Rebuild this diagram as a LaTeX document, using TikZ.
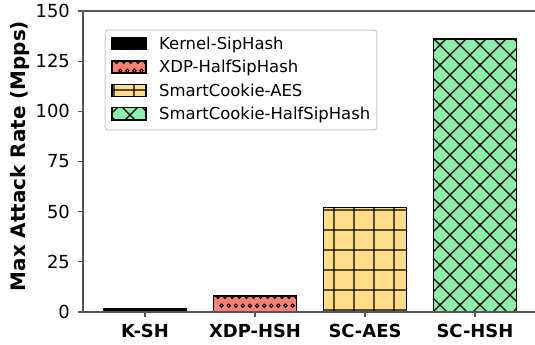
\documentclass[tikz,border=0pt]{standalone}
\usepackage{fontspec}
\setmainfont{DejaVu Sans}
\usetikzlibrary{patterns.meta}

\definecolor{spinegray}{HTML}{555555}
\definecolor{legendgray}{HTML}{CCCCCC}
\definecolor{xdpsalmon}{HTML}{FA8072}
\definecolor{aesyellow}{HTML}{FFDD88}
\definecolor{hshgreen}{HTML}{8CEEA8}

\tikzdeclarepattern{
	name=hatchgrid,
	type=uncolored,
	bounding box={(0bp,0bp) and (20bp,20bp)},
	tile size={(20bp,20bp)},
	code={
		\draw[line width=1.3bp] (0bp,15bp) -- (20bp,15bp) (15bp,0bp) -- (15bp,20bp);
	}
}
\tikzdeclarepattern{
	name=hatchcross,
	type=uncolored,
	bounding box={(-1bp,-1bp) and (21bp,21bp)},
	tile size={(20bp,20bp)},
	code={
		\draw[line width=1.3bp] (-2bp,-2bp) -- (22bp,22bp) (-2bp,22bp) -- (22bp,-2bp);
	}
}

% two staggered rows of small rings: first x, top row y, bottom row y, last index
\newcommand{\dotrows}[4]{%
	\foreach \k in {0,...,#4} {
		\draw[dotring] (#1+\k*0.06455,#2) circle (1.7bp);
		\draw[dotring] (#1+0.0323+\k*0.06455,#3) circle (1.7bp);
	}%
}

\tikzset{
	spine/.style={draw=spinegray, line width=1.2bp, line cap=rect},
	tickmark/.style={draw=spinegray, line width=1.2bp},
	ticklabel/.style={font=\fontsize{18}{21}\selectfont, inner sep=0pt},
	catlabel/.style={font=\fontsize{18}{21}\selectfont\bfseries, inner sep=0pt, anchor=base},
	barbox/.style={draw=black, line width=1.2bp},
	kshbar/.style={barbox, fill=black},
	xdpbar/.style={barbox, fill=xdpsalmon},
	aesbar/.style={barbox, preaction={fill=aesyellow}, pattern=hatchgrid, pattern color=black},
	hshbar/.style={barbox, preaction={fill=hshgreen}, pattern=hatchcross, pattern color=black},
	dotring/.style={draw=black, line width=1bp},
	legendbox/.style={draw=legendgray, line width=1bp, fill=white, fill opacity=0.8, rounded corners=3bp},
	legendtext/.style={font=\fontsize{16.5}{19}\selectfont, inner sep=0pt, anchor=base west}
}

\begin{document}
\begin{tikzpicture}[x=110bp, y=2.007bp]
	\useasboundingbox (-1.3182,-16.44) rectangle (3.5455,155.46);

	\coordinate (origin) at (-0.5636,0);
	\coordinate (topleft) at (-0.5636,150);
	\coordinate (bottomright) at (3.5455,0);
	\coordinate (topright) at (3.5455,150);

	\draw[kshbar] (-0.38,0) rectangle (0.38,1.5);
	\draw[xdpbar] (0.62,0) rectangle (1.38,8);
	\begin{scope}
		\clip (0.62,0) rectangle (1.38,8);
		\dotrows{0.6636}{7.62}{3.14}{11}
	\end{scope}
	\draw[barbox] (0.62,0) rectangle (1.38,8);
	\draw[aesbar] (1.62,0) rectangle (2.38,52);
	\draw[hshbar] (2.62,0) rectangle (3.38,136);

	\draw[spine] (topright) -- (topleft) -- (origin) -- (bottomright);

	\foreach \v in {0,25,...,150}
		\draw[tickmark] (-0.5636,\v) -- ++(-0.0455,0)
			node[ticklabel, anchor=east, xshift=-7.5bp] (ytick\v) {\v};

	\foreach \i/\lab in {0/K-SH,1/XDP-HSH,2/SC-AES,3/SC-HSH} {
		\draw[tickmark] (\i,0) -- ++(0,-2.5);
		\node[catlabel] (xtick\i) at (\i,-12.7) {\lab};
	}

	\node[font=\fontsize{20}{24}\selectfont\bfseries, rotate=90, inner sep=0pt] (ylabel) at (-1.136,77.7) {Max Attack Rate (Mpps)};

	\draw[legendbox] (-0.3636,90.7) rectangle (2.109,140.5);
	\foreach \y/\sty/\lab in {133.8/kshbar/Kernel-SipHash,122.1/xdpbar/XDP-HalfSipHash,110.4/aesbar/SmartCookie-AES,98.7/hshbar/SmartCookie-HalfSipHash} {
		\draw[\sty] (-0.3,\y-3) rectangle (0.009,\y+3);
		\node[legendtext] (leg\lab) at (0.127,\y-3) {\lab};
	}
	\begin{scope}
		\clip (-0.3,119.1) rectangle (0.009,125.1);
		\dotrows{-0.258}{124.7}{120.2}{4}
	\end{scope}
	\draw[barbox] (-0.3,119.1) rectangle (0.009,125.1);
\end{tikzpicture}
\end{document}
